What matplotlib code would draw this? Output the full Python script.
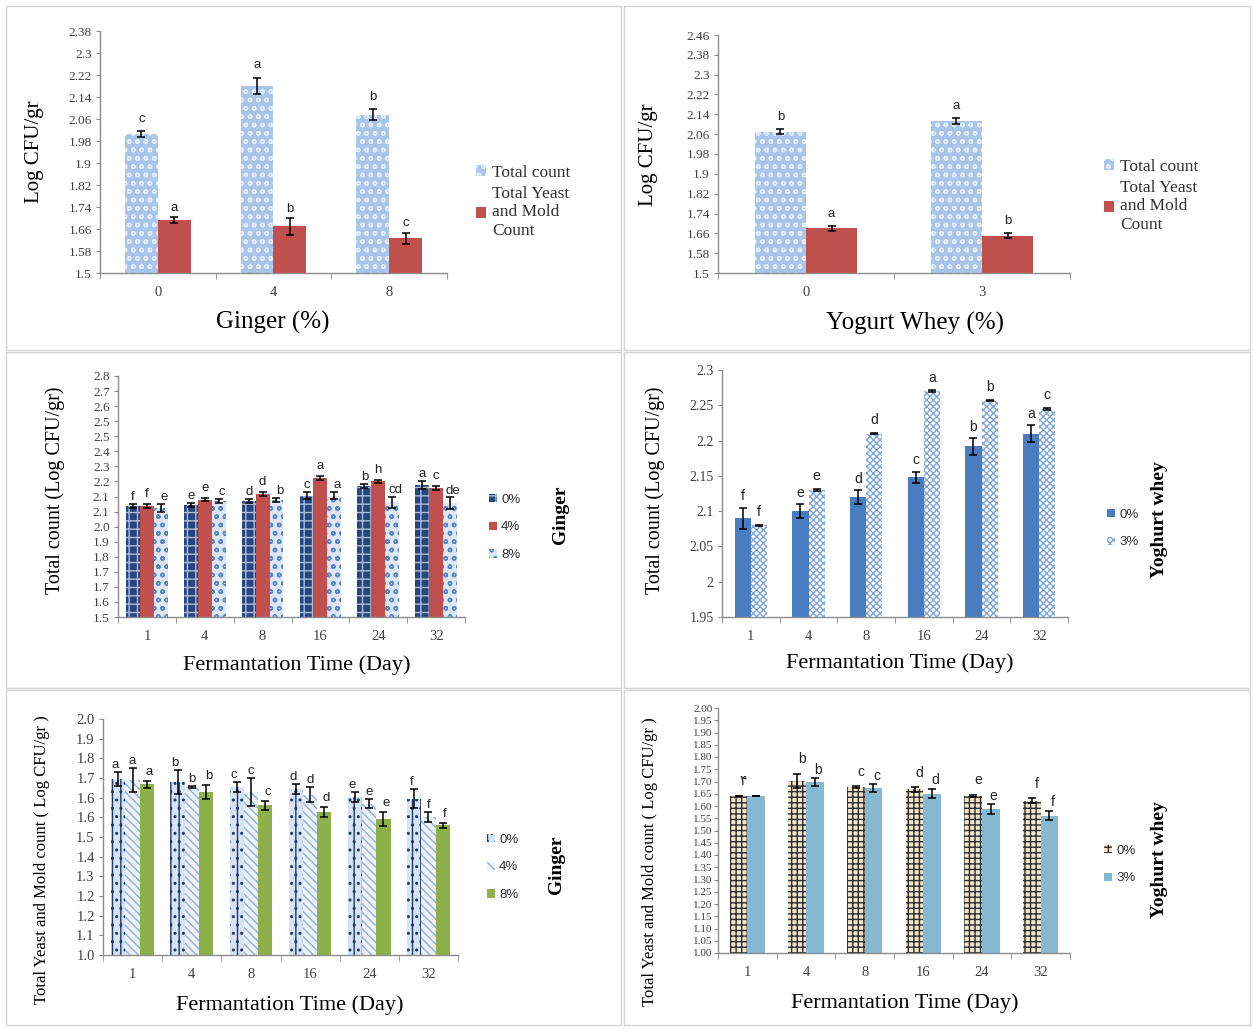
import matplotlib
matplotlib.use('Agg')
import matplotlib.pyplot as plt
from matplotlib.patches import Rectangle, Patch
import numpy as np

W, H = 1254, 1029
plt.rcParams['font.family'] = ['Liberation Serif', 'DejaVu Serif']
plt.rcParams['hatch.linewidth'] = 1.0

# ---------------- data ----------------
ginger_levels = ['0', '4', '8']
ginger_total = [2.005, 2.18, 2.075]
ginger_total_err = [0.01, 0.03, 0.02]
ginger_total_letters = ['c', 'a', 'b']
ginger_ym = [1.693, 1.67, 1.627]
ginger_ym_err = [0.01, 0.03, 0.02]
ginger_ym_letters = ['a', 'b', 'c']

whey_levels = ['0', '3']
whey_total = [2.07, 2.113]
whey_total_err = [0.01, 0.012]
whey_total_letters = ['b', 'a']
whey_ym = [1.68, 1.65]
whey_ym_err = [0.01, 0.01]
whey_ym_letters = ['a', 'b']

days = ['1', '4', '8', '16', '24', '32']

# Total count, ginger
tc_g0 = [2.09, 2.095, 2.115, 2.145, 2.195, 2.2]
tc_g0_err = [0.01, 0.01, 0.01, 0.02, 0.01, 0.02]
tc_g0_letters = ['f', 'e', 'd', 'c', 'b', 'a']
tc_g4 = [2.09, 2.124, 2.154, 2.24, 2.22, 2.185]
tc_g4_err = [0.01, 0.01, 0.01, 0.01, 0.01, 0.01]
tc_g4_letters = ['f', 'e', 'd', 'a', 'h', 'c']
tc_g8 = [2.08, 2.115, 2.12, 2.145, 2.11, 2.105]
tc_g8_err = [0.02, 0.01, 0.01, 0.02, 0.03, 0.03]
tc_g8_letters = ['e', 'c', 'b', 'a', 'cd', 'de']

# Total count, yoghurt whey
tc_w0 = [2.09, 2.10, 2.12, 2.148, 2.192, 2.21]
tc_w0_err = [0.015, 0.01, 0.01, 0.008, 0.012, 0.012]
tc_w0_letters = ['f', 'e', 'd', 'c', 'b', 'a']
tc_w3 = [2.08, 2.13, 2.21, 2.27, 2.257, 2.245]
tc_w3_err = [0.001, 0.002, 0.001, 0.001, 0.001, 0.001]
tc_w3_letters = ['f', 'e', 'd', 'a', 'b', 'c']

# Yeast & mold, ginger
ym_g0 = [1.745, 1.732, 1.711, 1.704, 1.669, 1.662]
ym_g0_err = [0.03, 0.05, 0.02, 0.02, 0.02, 0.04]
ym_g0_letters = ['a', 'b', 'c', 'd', 'e', 'f']
ym_g4 = [1.742, 1.711, 1.69, 1.68, 1.641, 1.585]
ym_g4_err = [0.05, 0.005, 0.06, 0.03, 0.02, 0.02]
ym_g4_letters = ['a', 'b', 'c', 'd', 'e', 'f']
ym_g8 = [1.723, 1.69, 1.634, 1.606, 1.577, 1.549]
ym_g8_err = [0.015, 0.03, 0.02, 0.02, 0.03, 0.01]
ym_g8_letters = ['a', 'b', 'c', 'd', 'e', 'f']
ym_g_ticklabels = ['1.0', '1.1', '1.2', '1.2', '1.3', '1.4', '1.5',
                   '1.6', '1.6', '1.7', '1.8', '1.9', '2.0']

# Yeast & mold, yoghurt whey
ym_w0 = [1.642, 1.702, 1.678, 1.668, 1.642, 1.621]
ym_w0_err = [0.0, 0.03, 0.004, 0.01, 0.004, 0.01]
ym_w0_letters = ['۴', 'b', 'c', 'd', 'e', 'f']
ym_w3 = [1.642, 1.698, 1.674, 1.651, 1.588, 1.561]
ym_w3_err = [0.0, 0.015, 0.015, 0.02, 0.02, 0.02]
ym_w3_letters = ['', 'b', 'c', 'd', 'e', 'f']

fig = plt.figure(figsize=(W / 100, H / 100), dpi=100)


def rect(l, t, r, b):
    return [l / W, 1 - b / H, (r - l) / W, (b - t) / H]


def fx(px):
    return px / W


def fy(py):
    return 1 - py / H


AXC = '#8c8c8c'
TICKC = '#404040'


def style(ax, labels, ylo, yhi, yticks, yticklabels=None, tfs=9.5):
    n = len(labels)
    ax.set_xlim(-0.5, n - 0.5)
    ax.set_ylim(ylo, yhi)
    ax.set_xticks(range(n))
    ax.set_xticklabels(labels, fontsize=10.5, color=TICKC)
    ax.set_xticks(np.arange(-0.5, n), minor=True)
    ax.tick_params(axis='x', which='major', length=0, pad=9)
    ax.tick_params(axis='x', which='minor', length=4, color=AXC)
    ax.set_yticks(yticks)
    if yticklabels is not None:
        ax.set_yticklabels(yticklabels)
    ax.tick_params(axis='y', length=3, color=AXC, labelsize=tfs,
                   labelcolor=TICKC, pad=3)
    for s in ['top', 'right']:
        ax.spines[s].set_visible(False)
    for s in ['left', 'bottom']:
        ax.spines[s].set_color(AXC)
        ax.spines[s].set_linewidth(1.0)
    ax.set_facecolor('none')


def bars(ax, vals, errs, letters, offset, width, fc, ec, hatch, lfs=9.5,
         dy=0.0, lx=0.0):
    x = np.arange(len(vals)) + offset
    ax.bar(x, vals, width, color=fc, edgecolor=ec, hatch=hatch, linewidth=0,
           zorder=2)
    ax.errorbar(x, vals, yerr=errs, fmt='none', ecolor='black', elinewidth=1.1,
                capsize=3, capthick=1.1, zorder=3)
    for xi, v, e, t in zip(x, vals, errs, letters):
        if t:
            ax.text(xi + lx, v + e + dy, t, ha='center', va='bottom',
                    fontsize=lfs, family=['Liberation Sans', 'DejaVu Sans'],
                    color='#202020', zorder=4)


def legend(ax, handles, labels, px, py, fs, spacing, sans=False, hl=0.6):
    prop = {'size': fs}
    if sans:
        prop['family'] = ['Liberation Sans', 'DejaVu Sans']
    leg = ax.legend(handles, labels, loc='upper left',
                    bbox_to_anchor=(fx(px), fy(py)),
                    bbox_transform=fig.transFigure, frameon=False,
                    handlelength=hl, handleheight=hl, handletextpad=0.35,
                    labelspacing=spacing, prop=prop, borderpad=0)
    for t in leg.get_texts():
        t.set_color('#303030')


# panel frames
frame_c = '#d4d4d4'
for (l, t, r, b) in [(6, 6, 621, 350), (624, 6, 1250, 350),
                     (6, 352, 621, 688), (624, 352, 1250, 688),
                     (6, 690, 621, 1025), (624, 690, 1250, 1025)]:
    fig.add_artist(Rectangle((fx(l), fy(b)), (r - l) / W, (b - t) / H,
                             transform=fig.transFigure, fill=False,
                             edgecolor=frame_c, linewidth=1.0))

# ---------- Panel 1: Ginger ----------
ax1 = fig.add_axes(rect(100, 31, 447, 273))
bw = 0.285
tc_fc, tc_ec = '#A9C5EA', '#E4EEFA'
ym_fc = '#C0504D'
bars(ax1, ginger_total, ginger_total_err, ginger_total_letters, -bw / 2, bw,
     tc_fc, tc_ec, 'oo', dy=0.025)
bars(ax1, ginger_ym, ginger_ym_err, ginger_ym_letters, bw / 2, bw,
     ym_fc, ym_fc, None, dy=0.012)
style(ax1, ginger_levels, 1.5, 2.38, np.round(np.arange(1.5, 2.381, 0.08), 2),
      ['1.5', '1.58', '1.66', '1.74', '1.82', '1.9', '1.98', '2.06', '2.14',
       '2.22', '2.3', '2.38'])
fig.text(fx(273), fy(322), 'Ginger (%)', ha='center', va='center', fontsize=18)
fig.text(fx(35), fy(152), 'Log CFU/gr', ha='center', va='center', fontsize=15,
         rotation=90)
legend(ax1, [Patch(facecolor=tc_fc, edgecolor=tc_ec, hatch='oo', linewidth=0),
             Patch(facecolor=ym_fc)],
       ['Total count', 'Total Yeast\nand Mold\nCount'], 467, 156, 12.5, 0.3)

# ---------- Panel 2: Yogurt whey ----------
ax2 = fig.add_axes(rect(718, 35, 1070, 273))
bw = 0.29
bars(ax2, whey_total, whey_total_err, whey_total_letters, -bw / 2, bw,
     tc_fc, tc_ec, 'oo', dy=0.025)
bars(ax2, whey_ym, whey_ym_err, whey_ym_letters, bw / 2, bw,
     ym_fc, ym_fc, None, dy=0.025)
style(ax2, whey_levels, 1.5, 2.46, np.round(np.arange(1.5, 2.461, 0.08), 2),
      ['1.5', '1.58', '1.66', '1.74', '1.82', '1.9', '1.98', '2.06', '2.14',
       '2.22', '2.3', '2.38', '2.46'])
fig.text(fx(915), fy(323), 'Yogurt Whey (%)', ha='center', va='center',
         fontsize=18)
fig.text(fx(648), fy(155), 'Log CFU/gr', ha='center', va='center', fontsize=15,
         rotation=90)
legend(ax2, [Patch(facecolor=tc_fc, edgecolor=tc_ec, hatch='oo', linewidth=0),
             Patch(facecolor=ym_fc)],
       ['Total count', 'Total Yeast\nand Mold\nCount'], 1095, 150, 12.5, 0.3)

# ---------- Panel 3: Total count, ginger ----------
ax3 = fig.add_axes(rect(118, 376, 465, 617))
bw = 0.24
g0_fc, g0_ec = '#28467E', '#A9BCDD'
g4_fc = '#C0504D'
g8_fc, g8_ec = '#DDE7F4', '#5A86C5'
bars(ax3, tc_g0, tc_g0_err, tc_g0_letters, -bw, bw, g0_fc, g0_ec, '++', lfs=9.5,
     dy=0.005)
bars(ax3, tc_g4, tc_g4_err, tc_g4_letters, 0, bw, g4_fc, g4_fc, None, lfs=9.5,
     dy=0.02)
bars(ax3, tc_g8, tc_g8_err, tc_g8_letters, bw, bw, g8_fc, g8_ec, 'oo', lfs=9.5,
     dy=0.005, lx=0.05)
yt3 = np.round(1.5 + 0.08 * np.arange(17), 2)
style(ax3, days, 1.5, 2.78, yt3, ['%.1f' % v for v in
                                   [1.5, 1.6, 1.7, 1.7, 1.8, 1.9, 2.0, 2.1, 2.1,
                                    2.2, 2.3, 2.4, 2.5, 2.5, 2.6, 2.7, 2.8]])
fig.text(fx(297), fy(665), 'Fermantation Time (Day)', ha='center',
         va='center', fontsize=16)
fig.text(fx(55), fy(490), 'Total count (Log CFU/gr)', ha='center',
         va='center', fontsize=14.5, rotation=90)
fig.text(fx(560), fy(515), 'Ginger', ha='center', va='center', fontsize=14,
         rotation=90, fontweight='bold')
legend(ax3, [Patch(facecolor=g0_fc, edgecolor=g0_ec, hatch='++', linewidth=0),
             Patch(facecolor=g4_fc),
             Patch(facecolor=g8_fc, edgecolor=g8_ec, hatch='oo', linewidth=0)],
       ['0%', '4%', '8%'], 482, 487, 9.5, 1.2, sans=True)

# ---------- Panel 4: Total count, yoghurt whey ----------
ax4 = fig.add_axes(rect(722, 370, 1068, 617))
bw = 0.28
w0_fc = '#4A7CC0'
w3_fc, w3_ec = '#FFFFFF', '#7FA6DA'
bars(ax4, tc_w0, tc_w0_err, tc_w0_letters, -bw / 2, bw, w0_fc, w0_fc, None,
     lfs=10, dy=0.006)
bars(ax4, tc_w3, tc_w3_err, tc_w3_letters, bw / 2, bw, w3_fc, w3_ec, 'xxxxx',
     lfs=10, dy=0.008)
style(ax4, days, 1.95, 2.3, [1.95, 2.0, 2.05, 2.1, 2.15, 2.2, 2.25, 2.3],
      ['1.95', '2', '2.05', '2.1', '2.15', '2.2', '2.25', '2.3'], tfs=10)
fig.text(fx(900), fy(663), 'Fermantation Time (Day)', ha='center',
         va='center', fontsize=16)
fig.text(fx(655), fy(490), 'Total count (Log CFU/gr)', ha='center',
         va='center', fontsize=14.5, rotation=90)
fig.text(fx(1160), fy(520), 'Yoghurt whey', ha='center', va='center',
         fontsize=14, rotation=90, fontweight='bold')
legend(ax4, [Patch(facecolor=w0_fc),
             Patch(facecolor=w3_fc, edgecolor=w3_ec, hatch='xxxxx', linewidth=0)],
       ['0%', '3%'], 1100, 502, 9.5, 1.2, sans=True)

# ---------- Panel 5: Yeast & mold, ginger ----------
ax5 = fig.add_axes(rect(103, 719, 458, 955))
bw = 0.24
m0_fc, m0_ec = '#D6E3F4', '#1F3A6B'
m4_fc, m4_ec = '#EEF3FA', '#8FB0DD'
m8_fc = '#8DB04B'
bars(ax5, ym_g0, ym_g0_err, ym_g0_letters, -bw, bw, m0_fc, m0_ec, '||..',
     lfs=9.5, dy=0.005, lx=-0.05)
bars(ax5, ym_g4, ym_g4_err, ym_g4_letters, 0, bw, m4_fc, m4_ec, '\\\\\\\\',
     lfs=9.5, dy=0.005)
bars(ax5, ym_g8, ym_g8_err, ym_g8_letters, bw, bw, m8_fc, m8_fc, None, lfs=9.5,
     dy=0.012, lx=0.04)
style(ax5, days, 1.0, 2.0, 1.0 + np.arange(13) / 12.0, ym_g_ticklabels,
      tfs=10.5)
fig.text(fx(290), fy(1005), 'Fermantation Time (Day)', ha='center',
         va='center', fontsize=16)
fig.text(fx(42), fy(860), 'Total Yeast and Mold count ( Log CFU/gr )',
         ha='center', va='center', fontsize=12, rotation=90)
fig.text(fx(557), fy(865), 'Ginger', ha='center', va='center', fontsize=14,
         rotation=90, fontweight='bold')
legend(ax5, [Patch(facecolor=m0_fc, edgecolor=m0_ec, hatch='||..', linewidth=0),
             Patch(facecolor=m4_fc, edgecolor=m4_ec, hatch='\\\\\\\\', linewidth=0),
             Patch(facecolor=m8_fc)],
       ['0%', '4%', '8%'], 480, 827, 9.5, 1.2, sans=True)

# ---------- Panel 6: Yeast & mold, yoghurt whey ----------
ax6 = fig.add_axes(rect(718, 708, 1070, 953))
bw = 0.3
n0_fc, n0_ec = '#F1E5CD', '#2E2E2E'
n3_fc = '#86B8D2'
bars(ax6, ym_w0, ym_w0_err, ym_w0_letters, -bw / 2, bw, n0_fc, n0_ec, '+++',
     lfs=10, dy=0.03, lx=0.08)
bars(ax6, ym_w3, ym_w3_err, ym_w3_letters, bw / 2, bw, n3_fc, n3_fc, None,
     lfs=10, dy=0.006, lx=0.05)
yt6 = np.round(np.arange(1.0, 2.001, 0.05), 2)
style(ax6, days, 1.0, 2.0, yt6, ['%.2f' % v for v in yt6], tfs=8)
ax6.tick_params(axis='y', pad=1)
fig.text(fx(905), fy(1003), 'Fermantation Time (Day)', ha='center',
         va='center', fontsize=16)
fig.text(fx(650), fy(862), 'Total Yeast and Mold count ( Log CFU/gr )',
         ha='center', va='center', fontsize=12, rotation=90)
fig.text(fx(1160), fy(860), 'Yoghurt whey', ha='center', va='center',
         fontsize=14, rotation=90, fontweight='bold')
legend(ax6, [Patch(facecolor=n0_fc, edgecolor=n0_ec, hatch='+++', linewidth=0),
             Patch(facecolor=n3_fc)],
       ['0%', '3%'], 1097, 838, 9.5, 1.2, sans=True)

fig.savefig('out.png', dpi=100)
